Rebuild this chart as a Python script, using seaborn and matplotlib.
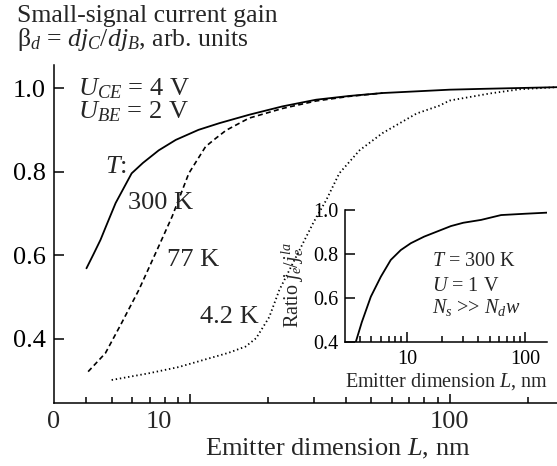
import matplotlib
matplotlib.use("Agg")
import matplotlib.pyplot as plt
import matplotlib.transforms as mtransforms
from matplotlib.ticker import FixedLocator, NullFormatter
import seaborn as sns

# ---- data -------------------------------------------------------------
# emitter dimension L (nm) and small-signal current gain for three temperatures
L_300K = [4.0, 4.26, 4.53, 4.74, 5.18, 5.97, 6.6, 7.59, 8.83, 10.8, 13.0, 16.9,
          22.7, 30.6, 41.1, 55.2, 74.4, 100, 134, 259]
gain_300K = [0.569, 0.603, 0.637, 0.667, 0.725, 0.796, 0.821, 0.851, 0.876,
             0.900, 0.916, 0.936, 0.956, 0.972, 0.981, 0.988, 0.992, 0.996,
             0.998, 1.002]

L_77K = [4.06, 4.73, 5.46, 6.36, 7.48, 8.55, 9.91, 11.5, 12.6, 13.8, 16.9, 22.7,
         30.6, 41.1, 55.2]
gain_77K = [0.322, 0.366, 0.438, 0.517, 0.613, 0.693, 0.796, 0.860, 0.880,
            0.899, 0.928, 0.951, 0.969, 0.980, 0.988]

L_4K = [5.0, 6.95, 9.07, 11.3, 14.1, 16.4, 18.0, 20.2, 22.1, 26.3, 30.0, 33.5,
        37.6, 45.0, 55.1, 74.6, 91.5, 100, 143, 186, 259]
gain_4K = [0.302, 0.318, 0.333, 0.350, 0.367, 0.382, 0.402, 0.452, 0.517, 0.610,
           0.680, 0.732, 0.796, 0.851, 0.892, 0.939, 0.958, 0.970, 0.987, 0.997,
           1.002]

# inset: ratio of emitter current densities at T = 300 K
L_inset = [3.7, 4.16, 4.96, 6.03, 7.31, 8.89, 10.8, 14.0, 19.4, 23.6, 30.0,
           42.4, 62.6, 100, 154]
ratio_inset = [0.40, 0.49, 0.606, 0.697, 0.773, 0.818, 0.849, 0.879, 0.909,
               0.927, 0.942, 0.955, 0.977, 0.983, 0.988]

x_tick_text = ["0", "10", "100"]
x_tick_text_pos = [3, 7.59, 100]
y_ticks = [0.4, 0.6, 0.8, 1.0]

# ---- style ------------------------------------------------------------
sns.set_theme(style="ticks")
plt.rcParams["font.family"] = ["Liberation Serif", "DejaVu Serif"]
plt.rcParams["mathtext.fontset"] = "custom"
plt.rcParams["mathtext.rm"] = "Liberation Serif"
plt.rcParams["mathtext.it"] = "Liberation Serif:italic"
plt.rcParams["mathtext.bf"] = "Liberation Serif:bold"
plt.rcParams["lines.scale_dashes"] = False

W, H = 557, 466
FS = 19
FS_TITLE = 18.5
FS_IN = 14.5


def fx(x):
    return x / W


def fy(y):
    return 1 - y / H


fig = plt.figure(figsize=(W / 100, H / 100), dpi=100)
fig.patch.set_facecolor("white")

# ---- main axes --------------------------------------------------------
ax = fig.add_axes([fx(54), fy(403), fx(557) - fx(54), fy(65) - fy(403)])
ax.set_facecolor("none")
ax.set_xscale("log")

sns.lineplot(x=L_300K, y=gain_300K, ax=ax, color="black", lw=1.3,
             estimator=None, sort=False, linestyle="-")
sns.lineplot(x=L_77K, y=gain_77K, ax=ax, color="black", lw=1.2,
             estimator=None, sort=False, linestyle=(0, (3.6, 2.4)))
sns.lineplot(x=L_4K, y=gain_4K, ax=ax, color="black", lw=1.3,
             estimator=None, sort=False, linestyle=(0, (1.0, 2.0)))

ax.set_xlim(3, 259)
ax.set_ylim(0.247, 1.055)
for s in ("top", "right"):
    ax.spines[s].set_visible(False)
for s in ("left", "bottom"):
    ax.spines[s].set_linewidth(1.1)
    ax.spines[s].set_color("black")

ax.set_yticks(y_ticks)
ax.set_yticklabels([f"{v:.1f}" for v in y_ticks])
ax.tick_params(axis="y", which="major", direction="in", length=7, width=1.1,
               pad=6, labelsize=FS, colors="black")
ax.xaxis.set_major_locator(FixedLocator([10, 100]))
ax.xaxis.set_minor_locator(FixedLocator([4, 5, 6, 7, 8, 9, 20, 30, 40, 50,
                                         60, 70, 80, 90, 200]))
ax.xaxis.set_minor_formatter(NullFormatter())
ax.tick_params(axis="x", which="major", direction="in", length=6.5, width=1.1,
               labelbottom=False, colors="black")
ax.tick_params(axis="x", which="minor", direction="in", length=4, width=1.1,
               colors="black")
ax.set_xlabel("")
ax.set_ylabel("")

# x tick labels
trans = mtransforms.blended_transform_factory(ax.transData, ax.transAxes)
for pos, txt in zip(x_tick_text_pos, x_tick_text):
    ax.text(pos, (403 - 428) / 338, txt, transform=trans, ha="center",
            va="baseline", fontsize=FS)

fig.text(fx(338), fy(455), "Emitter dimension $L$, nm", ha="center",
         va="baseline", fontsize=FS)

# y-axis title (two lines in one text block)
fig.text(fx(17), fy(5),
         "Small-signal current gain\nβ$_d$ = $dj_C/dj_B$, arb. units",
         ha="left", va="top", fontsize=FS_TITLE, linespacing=0.95)

# conditions and curve labels
fig.text(fx(78), fy(95), "$U_{CE}$ = 4 V", ha="left", va="baseline", fontsize=FS)
fig.text(fx(78), fy(118), "$U_{BE}$ = 2 V", ha="left", va="baseline", fontsize=FS)
fig.text(fx(105), fy(173), "$T$:", ha="left", va="baseline", fontsize=FS)
fig.text(fx(128), fy(209), "300 K", ha="left", va="baseline", fontsize=FS)
fig.text(fx(167), fy(266), "77 K", ha="left", va="baseline", fontsize=FS)
fig.text(fx(200), fy(323), "4.2 K", ha="left", va="baseline", fontsize=FS)

# ---- inset ------------------------------------------------------------
ax_in = fig.add_axes([fx(345), fy(342), fx(547) - fx(345), fy(210) - fy(342)])
ax_in.set_facecolor("none")
ax_in.set_xscale("log")
sns.lineplot(x=L_inset, y=ratio_inset, ax=ax_in, color="black", lw=1.3,
             estimator=None, sort=False)
ax_in.set_xlim(3, 153)
ax_in.set_ylim(0.4, 1.0)
for s in ("top", "right"):
    ax_in.spines[s].set_visible(False)
for s in ("left", "bottom"):
    ax_in.spines[s].set_linewidth(1.1)
    ax_in.spines[s].set_color("black")
ax_in.set_yticks(y_ticks)
ax_in.set_yticklabels([f"{v:.1f}" for v in y_ticks])
ax_in.xaxis.set_major_locator(FixedLocator([10, 100]))
ax_in.set_xticklabels(["10", "100"])
ax_in.xaxis.set_minor_locator(FixedLocator([4, 5, 6, 7, 8, 9, 20, 30, 40, 50,
                                            60, 70, 80, 90]))
ax_in.xaxis.set_minor_formatter(NullFormatter())
ax_in.tick_params(axis="y", which="major", direction="in", length=7, width=1.1,
                  pad=5, labelsize=FS_IN, colors="black")
ax_in.tick_params(axis="x", which="major", direction="in", length=7, width=1.1,
                  pad=6, labelsize=FS_IN, colors="black")
ax_in.tick_params(axis="x", which="minor", direction="in", length=4.5,
                  width=1.1, colors="black")
ax_in.set_xlabel("Emitter dimension $L$, nm", fontsize=FS_IN, labelpad=1)
ax_in.set_ylabel("")
ax_in.text((293 - 345) / 202, (342 - 285) / 132, "Ratio $j_e/j_e^{la}$",
           transform=ax_in.transAxes, rotation=90, ha="center", va="center",
           fontsize=FS_IN)

fig.text(fx(432), fy(266), "$T$ = 300 K", ha="left", va="baseline", fontsize=FS_IN)
fig.text(fx(432), fy(291), "$U$ = 1 V", ha="left", va="baseline", fontsize=FS_IN)
fig.text(fx(432), fy(313), "$N_s$ >> $N_d w$", ha="left", va="baseline",
         fontsize=FS_IN)

fig.savefig("out.png", dpi=100, facecolor="white")
